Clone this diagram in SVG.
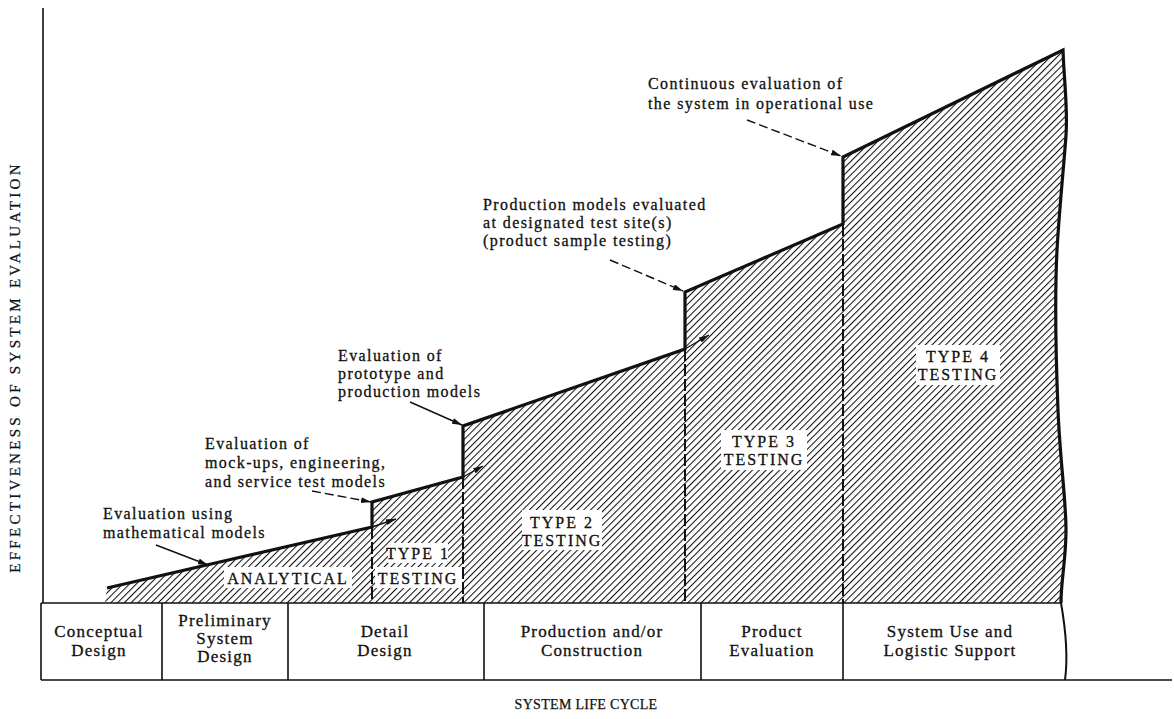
<svg xmlns="http://www.w3.org/2000/svg" width="1174" height="719" viewBox="0 0 1174 719">
  <defs>
    <!-- diagonal hatching used for the evaluation area -->
    <pattern id="hatch" width="4.8" height="4.8" patternUnits="userSpaceOnUse" patternTransform="rotate(45)">
      <line x1="0" y1="0" x2="0" y2="4.8" stroke="#111" stroke-width="2.1"/>
    </pattern>
    <marker id="ah" viewBox="0 0 10 6" refX="10" refY="3" markerWidth="10" markerHeight="6" markerUnits="userSpaceOnUse" orient="auto">
      <path d="M0,0 L10,3 L0,6 Z" fill="#111"/>
    </marker>
    <style>
      .note { font-family: "Liberation Serif", "Times New Roman", serif; font-size: 16px; letter-spacing: 1.4px; fill: #111; stroke: #111; stroke-width: 0.3px; }
      .box  { font-family: "Liberation Serif", "Times New Roman", serif; font-size: 17px; letter-spacing: 1.2px; fill: #111; stroke: #111; stroke-width: 0.3px; text-anchor: middle; }
      .tag  { font-family: "Liberation Serif", "Times New Roman", serif; font-size: 16px; letter-spacing: 2px; fill: #111; stroke: #111; stroke-width: 0.3px; text-anchor: middle; }
      .axis { font-family: "Liberation Serif", "Times New Roman", serif; fill: #111; stroke: #111; stroke-width: 0.25px; text-anchor: middle; }
      .line { stroke: #111; fill: none; }
      .ptr  { stroke: #111; stroke-width: 1.4; fill: none; marker-end: url(#ah); }
      .ptr-d { stroke: #111; stroke-width: 1.4; fill: none; stroke-dasharray: 9 4; marker-end: url(#ah); }
      .knock { fill: #fff; }
    </style>
  </defs>

  <rect width="1174" height="719" fill="#fff"/>

  <!-- vertical axis and its title -->
  <g id="axis-y">
    <line class="line" x1="43" y1="8" x2="43" y2="603" stroke-width="1.6"/>
    <text class="axis" transform="translate(20,367) rotate(-90)" font-size="15" letter-spacing="3.3">EFFECTIVENESS OF SYSTEM EVALUATION</text>
  </g>

  <!-- hatched evaluation area with stepped upper profile -->
  <g id="evaluation-area">
    <path d="M105,603 L107,588 L372,527 L372,502 L463,477 L463,426 L685,349 L685,292 L843,224 L843,157 L1063,50 C1064,80 1068,110 1066,135 C1064,165 1060,200 1057,250 C1055,290 1056,360 1058,410 C1060,460 1066,500 1066,530 C1066,560 1061,580 1061,603 Z" fill="url(#hatch)"/>
    <path class="line" stroke-width="3.2" stroke-linejoin="miter" d="M107,588 L372,527 L372,502 L463,477 L463,426 L685,349 L685,292 L843,224 L843,157 L1063,50 C1064,80 1068,110 1066,135 C1064,165 1060,200 1057,250 C1055,290 1056,360 1058,410 C1060,460 1066,500 1066,530 C1066,560 1061,580 1061,603"/>
  </g>

  <!-- phase boundaries and extrapolation arrows -->
  <g id="connectors">
    <g stroke="#111" stroke-width="2" stroke-dasharray="12 3" fill="none">
      <line x1="372" y1="527" x2="372" y2="603"/>
      <line x1="463" y1="477" x2="463" y2="603"/>
      <line x1="685" y1="349" x2="685" y2="603"/>
      <line x1="843" y1="224" x2="843" y2="603"/>
    </g>
    <line class="ptr" x1="372" y1="527" x2="396" y2="519"/>
    <line class="ptr" x1="463" y1="477" x2="483" y2="466"/>
    <line class="ptr" x1="685" y1="349" x2="709" y2="335"/>

    <!-- callout pointers -->
    <line class="ptr" x1="156" y1="545" x2="208" y2="565"/>
    <line class="ptr-d" x1="312" y1="491" x2="371" y2="502"/>
    <line class="ptr" x1="410" y1="402" x2="462" y2="425"/>
    <line class="ptr-d" x1="610" y1="260" x2="683" y2="291"/>
    <line class="ptr-d" x1="747" y1="120" x2="841" y2="156"/>
  </g>

  <!-- testing type labels -->
  <g id="label-analytical">
    <rect class="knock" x="224" y="567" width="128" height="21"/>
    <text class="tag" x="288" y="584">ANALYTICAL</text>
  </g>
  <g id="label-type1">
    <rect class="knock" x="388" y="543" width="60" height="20"/>
    <rect class="knock" x="375" y="567" width="87" height="21"/>
    <text class="tag" x="418" y="559">TYPE 1</text>
    <text class="tag" x="418" y="584">TESTING</text>
  </g>
  <g id="label-type2">
    <rect class="knock" x="522" y="510" width="80" height="40"/>
    <text class="tag" x="562" y="528">TYPE 2</text>
    <text class="tag" x="562" y="546">TESTING</text>
  </g>
  <g id="label-type3">
    <rect class="knock" x="721" y="430" width="86" height="40"/>
    <text class="tag" x="764" y="447">TYPE 3</text>
    <text class="tag" x="764" y="465">TESTING</text>
  </g>
  <g id="label-type4">
    <rect class="knock" x="916" y="345" width="84" height="40"/>
    <text class="tag" x="958" y="362">TYPE 4</text>
    <text class="tag" x="958" y="380">TESTING</text>
  </g>

  <!-- callout notes -->
  <g id="note-math">
    <text class="note" x="103" y="519">Evaluation using</text>
    <text class="note" x="103" y="538">mathematical models</text>
  </g>
  <g id="note-mockups">
    <text class="note" x="205" y="449">Evaluation of</text>
    <text class="note" x="205" y="468">mock-ups, engineering,</text>
    <text class="note" x="205" y="487">and service test models</text>
  </g>
  <g id="note-prototype">
    <text class="note" x="338" y="361">Evaluation of</text>
    <text class="note" x="338" y="379">prototype and</text>
    <text class="note" x="338" y="397">production models</text>
  </g>
  <g id="note-production">
    <text class="note" x="483" y="210">Production models evaluated</text>
    <text class="note" x="483" y="228">at designated test site(s)</text>
    <text class="note" x="483" y="246">(product sample testing)</text>
  </g>
  <g id="note-operational">
    <text class="note" x="648" y="89">Continuous evaluation of</text>
    <text class="note" x="648" y="109">the system in operational use</text>
  </g>

  <!-- life cycle phase boxes -->
  <g id="phase-row">
    <path class="line" stroke-width="1.6" d="M41,603 L1061,603 M41,603 L41,680 M41,680 L1172,680 M162,603 L162,680 M288,603 L288,680 M484,603 L484,680 M701,603 L701,680 M843,603 L843,680"/>
    <path class="line" stroke-width="2" d="M1061,603 C1064,620 1069,650 1065,680"/>
  </g>
  <g id="phase-conceptual">
    <text class="box" x="99" y="637" letter-spacing="2">Conceptual</text>
    <text class="box" x="99" y="656">Design</text>
  </g>
  <g id="phase-preliminary">
    <text class="box" x="225" y="626">Preliminary</text>
    <text class="box" x="225" y="644">System</text>
    <text class="box" x="225" y="662">Design</text>
  </g>
  <g id="phase-detail">
    <text class="box" x="385" y="637">Detail</text>
    <text class="box" x="385" y="656">Design</text>
  </g>
  <g id="phase-production">
    <text class="box" x="592" y="637">Production and/or</text>
    <text class="box" x="592" y="656">Construction</text>
  </g>
  <g id="phase-evaluation">
    <text class="box" x="772" y="637">Product</text>
    <text class="box" x="772" y="656">Evaluation</text>
  </g>
  <g id="phase-use">
    <text class="box" x="950" y="637">System Use and</text>
    <text class="box" x="950" y="656">Logistic Support</text>
  </g>

  <!-- horizontal axis title -->
  <g id="axis-x">
    <text class="axis" x="586" y="709" font-size="14" letter-spacing="0.3">SYSTEM LIFE CYCLE</text>
  </g>
</svg>
